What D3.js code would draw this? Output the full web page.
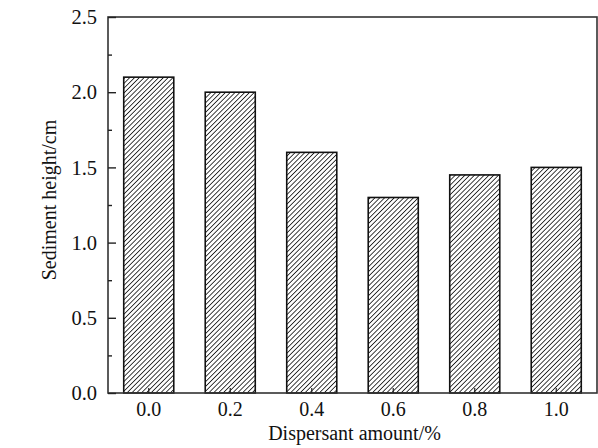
<!DOCTYPE html>
<html>
<head>
<meta charset="utf-8">
<script src="https://cdn.jsdelivr.net/npm/d3@7"></script>
<style>
  body { margin: 0; background: #fff; }
  svg { display: block; font-family: "Liberation Serif", "Times New Roman", serif; }
</style>
</head>
<body>
<div id="chart"></div>
<script>
var categories = ['0.0', '0.2', '0.4', '0.6', '0.8', '1.0'];
var heights = [2.1, 2.0, 1.6, 1.3, 1.45, 1.5];
var yTicks = [0, 0.5, 1.0, 1.5, 2.0, 2.5];
var yMinorTicks = [0.25, 0.75, 1.25, 1.75, 2.25];

var width = 598;
var height = 448;
var margin = {top: 17, right: 1, bottom: 55, left: 108};
var innerW = width - margin.left - margin.right;
var innerH = height - margin.top - margin.bottom;

var svg = d3.select('#chart').append('svg')
  .attr('width', width)
  .attr('height', height);

var defs = svg.append('defs');
var pattern = defs.append('pattern')
  .attr('id', 'hatch')
  .attr('patternUnits', 'userSpaceOnUse')
  .attr('width', 3.4)
  .attr('height', 3.4)
  .attr('patternTransform', 'rotate(45)');
pattern.append('rect')
  .attr('width', 3.4).attr('height', 3.4).attr('fill', '#fff');
pattern.append('line')
  .attr('x1', 0).attr('y1', 0).attr('x2', 0).attr('y2', 3.4)
  .attr('stroke', '#000').attr('stroke-width', 1.5);

var g = svg.append('g')
  .attr('transform', 'translate(' + margin.left + ',' + margin.top + ')');

var x = d3.scaleBand()
  .domain(categories)
  .range([0, innerW])
  .paddingInner(0.386)
  .paddingOuter(0.193);

var y = d3.scaleLinear()
  .domain([0, 2.5])
  .range([innerH, 0]);

// bars
g.selectAll('rect.bar')
  .data(heights)
  .enter()
  .append('rect')
  .attr('class', 'bar')
  .attr('x', function (d, i) { return x(categories[i]); })
  .attr('y', function (d) { return y(d); })
  .attr('width', x.bandwidth())
  .attr('height', function (d) { return innerH - y(d); })
  .attr('fill', 'url(#hatch)')
  .attr('stroke', '#111')
  .attr('stroke-width', 1.6);

// frame
g.append('rect')
  .attr('x', 0).attr('y', 0)
  .attr('width', innerW).attr('height', innerH)
  .attr('fill', 'none')
  .attr('stroke', '#333')
  .attr('stroke-width', 1.6);

// left axis, ticks inward
var yAxis = g.append('g')
  .call(d3.axisRight(y).tickValues(yTicks).tickSize(8).tickFormat(''));
yAxis.select('.domain').remove();
yAxis.selectAll('line').attr('stroke', '#222').attr('stroke-width', 1.4);

var yMinor = g.append('g')
  .call(d3.axisRight(y).tickValues(yMinorTicks).tickSize(4).tickFormat(''));
yMinor.select('.domain').remove();
yMinor.selectAll('line').attr('stroke', '#222').attr('stroke-width', 1.4);

g.selectAll('text.ylab')
  .data(yTicks)
  .enter()
  .append('text')
  .attr('class', 'ylab')
  .attr('x', -11)
  .attr('y', function (d) { return y(d); })
  .attr('dy', '0.35em')
  .attr('text-anchor', 'end')
  .attr('font-size', 20.5)
  .attr('fill', '#111')
  .text(function (d) { return d3.format('.1f')(d); });

// bottom axis, ticks inward
var xAxis = g.append('g')
  .attr('transform', 'translate(0,' + innerH + ')')
  .call(d3.axisTop(x).tickSize(5).tickFormat(''));
xAxis.select('.domain').remove();
xAxis.selectAll('line').attr('stroke', '#222').attr('stroke-width', 1.2);

g.selectAll('text.xlab')
  .data(categories)
  .enter()
  .append('text')
  .attr('class', 'xlab')
  .attr('x', function (d) { return x(d) + x.bandwidth() / 2; })
  .attr('y', innerH + 23)
  .attr('text-anchor', 'middle')
  .attr('font-size', 20)
  .attr('fill', '#111')
  .text(function (d) { return d; });

// axis titles
svg.append('text')
  .attr('x', margin.left + innerW / 2 + 2)
  .attr('y', 440)
  .attr('text-anchor', 'middle')
  .attr('font-size', 20)
  .attr('fill', '#111')
  .text('Dispersant amount/%');

svg.append('text')
  .attr('transform', 'translate(56,200) rotate(-90)')
  .attr('text-anchor', 'middle')
  .attr('font-size', 20)
  .attr('fill', '#111')
  .text('Sediment height/cm');
</script>
</body>
</html>
